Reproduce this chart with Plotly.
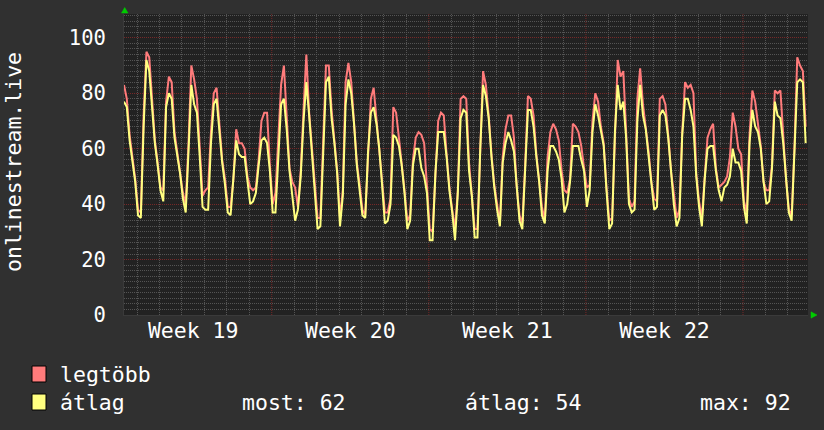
import plotly.graph_objects as go
import pandas as pd

# ---------------- data ----------------
start_time = "2024-05-06 10:00"   # first sample (3-hour resolution)
end_time = "2024-06-05 21:30"     # right edge of the time axis
sample_freq = "3h"
first_week_start = "2024-05-06"   # Monday of ISO week 19

legtobb = [
    83, 78, 65, 57, 49, 38, 37, 72, 95, 93, 77, 63, 55, 46, 45, 77, 86, 84, 66, 58,
    51, 44, 40, 62, 90, 85, 78, 58, 43, 45, 46, 66, 80, 82, 68, 56, 49, 39, 39, 49,
    67, 62, 62, 60, 50, 46, 45, 46, 56, 70, 73, 73, 54, 40, 44, 62, 83, 90, 69, 53,
    48, 46, 39, 52, 74, 94, 73, 60, 48, 35, 35, 62, 90, 90, 74, 63, 52, 35, 45, 84,
    91, 84, 70, 55, 47, 38, 36, 60, 78, 82, 71, 61, 48, 37, 37, 42, 75, 73, 64, 55,
    45, 34, 36, 56, 64, 66, 65, 62, 45, 31, 30, 53, 70, 73, 72, 58, 46, 38, 31, 45,
    78, 79, 78, 55, 44, 31, 31, 62, 88, 83, 72, 58, 47, 40, 33, 57, 67, 72, 72, 64,
    46, 36, 33, 54, 79, 78, 72, 58, 49, 39, 34, 57, 66, 69, 67, 63, 52, 45, 44, 49,
    69, 68, 66, 61, 53, 46, 47, 70, 80, 77, 68, 62, 46, 34, 35, 67, 92, 86, 88, 66,
    42, 39, 41, 78, 89, 76, 68, 59, 48, 42, 41, 78, 79, 76, 65, 52, 44, 35, 38, 66,
    84, 82, 83, 80, 51, 41, 35, 50, 64, 67, 69, 53, 46, 47, 48, 50, 57, 73, 68, 60,
    58, 41, 37, 65, 81, 77, 68, 61, 48, 45, 45, 54, 81, 80, 81, 65, 49, 38, 36, 60,
    93, 90, 88, 68,
]
atlag = [
    77, 75, 63, 56, 48, 36, 35, 68, 92, 88, 76, 62, 54, 45, 41, 75, 80, 78, 64, 58,
    51, 42, 37, 59, 83, 76, 73, 57, 39, 38, 38, 62, 76, 78, 66, 55, 47, 37, 36, 48,
    63, 58, 57, 57, 49, 40, 41, 44, 54, 63, 64, 62, 52, 37, 37, 59, 76, 78, 67, 52,
    44, 34, 38, 50, 70, 84, 72, 59, 47, 31, 32, 60, 84, 86, 71, 62, 51, 32, 43, 76,
    85, 80, 69, 54, 46, 36, 35, 59, 73, 75, 69, 60, 47, 33, 34, 40, 65, 64, 61, 54,
    44, 31, 34, 54, 60, 60, 53, 50, 44, 27, 27, 51, 66, 66, 66, 57, 45, 37, 27, 44,
    71, 74, 73, 52, 43, 28, 28, 60, 83, 79, 71, 57, 46, 38, 32, 55, 62, 66, 63, 59,
    45, 34, 31, 53, 74, 74, 68, 57, 48, 36, 33, 52, 61, 61, 59, 56, 49, 37, 40, 48,
    61, 61, 61, 56, 52, 39, 45, 66, 76, 72, 67, 61, 45, 31, 33, 66, 83, 74, 77, 64,
    40, 37, 38, 70, 83, 72, 67, 58, 47, 38, 39, 72, 74, 72, 64, 51, 40, 32, 35, 65,
    78, 78, 74, 68, 50, 39, 32, 49, 60, 61, 61, 52, 45, 41, 46, 47, 50, 60, 55, 55,
    52, 39, 33, 62, 74, 68, 66, 60, 48, 40, 41, 53, 77, 72, 71, 62, 48, 37, 34, 58,
    84, 85, 84, 62,
]
series_names = ["legtöbb", "átlag"]
series_colors = ["#ff7b7b", "#ffff80"]
y_axis_title = "onlinestream.live"
stat_labels = ["most:", "átlag:", "max:"]
stat_values = [62, 54, 92]

# ---------------- figure ----------------
times = pd.date_range(start_time, periods=len(atlag), freq=sample_freq)
week_starts = pd.date_range(first_week_start, end_time, freq="7D")

L, R, T, B = 124, 16, 14, 115
W = 824 - L - R
H = 430 - T - B


def fx(px):
    return (px - L) / W


def fy(py):
    return (T + H - py) / H


FONT = "DejaVu Sans Mono"
FS = 21.5
MAJ = "rgb(118,40,40)"
MIN = "rgb(84,84,84)"
DASH = "1px,1px"

fig = go.Figure()
for name, vals, col in zip(series_names, [legtobb, atlag], series_colors):
    fig.add_trace(go.Scatter(
        x=times, y=vals, name=name, mode="lines", line_shape="linear",
        line=dict(color=col, width=2), hoverinfo="skip",
    ))

fig.update_layout(
    width=824, height=430,
    margin=dict(l=L, r=R, t=T, b=B, pad=0),
    paper_bgcolor="#303030", plot_bgcolor="#222222",
    showlegend=False,
    font=dict(family=FONT, color="white", size=FS),
)

fig.update_xaxes(
    type="date", range=[start_time, end_time],
    tick0=first_week_start, dtick=7 * 86400000,
    tickformat="Week %V", ticklabelmode="period",
    showgrid=False,
    ticks="", ticklabelstandoff=-4,
    tickfont=dict(family=FONT, size=FS, color="white"),
    minor=dict(tick0=first_week_start, dtick=86400000, showgrid=True,
               gridcolor=MIN, griddash=DASH, gridwidth=1),
    zeroline=False, showline=True, linecolor="#3a3a3a", linewidth=1,
)
fig.update_yaxes(
    range=[0, 108.6], tick0=0, dtick=20,
    showgrid=True, gridcolor=MAJ, griddash=DASH, gridwidth=1,
    ticks="outside", ticklen=13, tickcolor="rgba(0,0,0,0)",
    tickfont=dict(family=FONT, size=20.5, color="white"),
    minor=dict(tick0=0, dtick=2, showgrid=True, gridcolor=MIN,
               griddash=DASH, gridwidth=1),
    zeroline=False, showline=True, linecolor="#3a3a3a", linewidth=1,
)

annotations = [
    dict(text=y_axis_title, xref="paper", yref="paper", x=fx(13), y=fy(162),
         textangle=-90, showarrow=False, xanchor="center", yanchor="middle",
         font=dict(family=FONT, size=FS, color="white")),
    dict(text=series_names[0], xref="paper", yref="paper", x=fx(58), y=fy(374),
         showarrow=False, xanchor="left", yanchor="middle",
         font=dict(family=FONT, size=FS, color="white")),
    dict(text=series_names[1], xref="paper", yref="paper", x=fx(58), y=fy(402),
         showarrow=False, xanchor="left", yanchor="middle",
         font=dict(family=FONT, size=FS, color="white")),
]
for lab, val, px in zip(stat_labels, stat_values, [240, 463, 698]):
    annotations.append(dict(
        text=f"{lab} {val}", xref="paper", yref="paper", x=fx(px), y=fy(402),
        showarrow=False, xanchor="left", yanchor="middle",
        font=dict(family=FONT, size=FS, color="white")))
fig.update_layout(annotations=annotations)

shapes = []
# weekly (major) vertical grid lines, drawn above the daily grid
for ws in week_starts:
    shapes.append(dict(type="line", xref="x", yref="paper", x0=ws, x1=ws,
                       y0=0, y1=1, layer="below",
                       line=dict(color=MAJ, width=1, dash=DASH)))

for col, (ytop, ybot) in zip(series_colors, [(366, 382), (394, 410)]):
    shapes.append(dict(type="rect", xref="paper", yref="paper",
                       x0=fx(32), x1=fx(46), y0=fy(ybot), y1=fy(ytop),
                       fillcolor=col, line=dict(color="black", width=1)))


def tri(pts):
    s = "M " + " L ".join(f"{fx(a)},{fy(b)}" for a, b in pts) + " Z"
    return dict(type="path", xref="paper", yref="paper", path=s,
                fillcolor="#00cc00", line=dict(color="#00cc00", width=0.5))


shapes.append(tri([(121.5, 13), (128, 13), (124.7, 7.5)]))
shapes.append(tri([(811, 311.8), (811, 318.2), (817, 315)]))
fig.update_layout(shapes=shapes)

fig.write_html("out.html")
